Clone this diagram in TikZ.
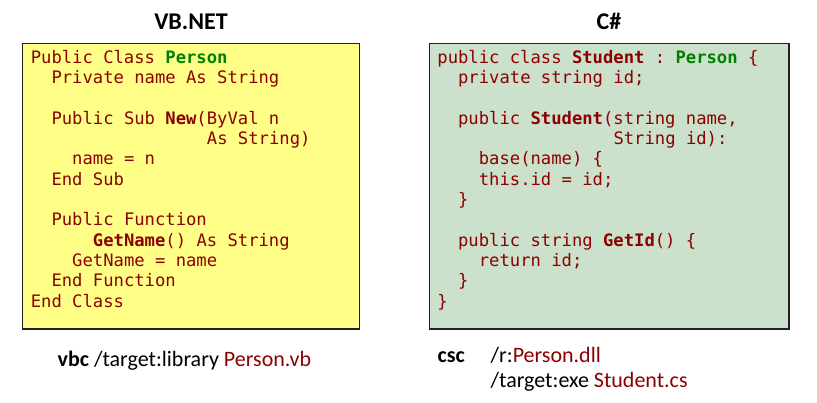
\documentclass[tikz,border=0pt]{standalone}
\usepackage{fontspec}
\setmainfont{Carlito}
\setmonofont{DejaVu Sans Mono}
\definecolor{codered}{RGB}{140,0,0}
\definecolor{codegreen}{RGB}{0,128,0}
\definecolor{vbfill}{RGB}{255,255,136}
\definecolor{csfill}{RGB}{203,225,203}
\definecolor{boxline}{RGB}{34,34,34}
\begin{document}
\begin{tikzpicture}[x=1pt,y=-1pt,
  codebox/.style={draw=boxline,line width=1.5pt,inner sep=0pt,minimum width=#1,minimum height=285.7pt},
  code/.style={anchor=base west,inner sep=0pt,text=codered,font=\fontsize{17.2}{20}\selectfont\ttfamily},
  title/.style={anchor=base,inner sep=0pt,font=\fontsize{24}{28}\selectfont\bfseries},
  cmd/.style={anchor=base west,inner sep=0pt,font=\fontsize{22}{26}\selectfont}]
\useasboundingbox (0,0) rectangle (817,402);
\def\cw{10.36}
\def\lh{20.33}
% titles
\node[title] (t1) at (191,29.3) {VB.NET};
\node[title] (t2) at (609,29.3) {C\#};
% boxes
\node[codebox=337pt,fill=vbfill] (vb) at (191,186.2) {};
\node[codebox=359.7pt,fill=csfill] (cs) at (609.2,186.2) {};
% VB code
\def\lx{30.6}
\def\by{63.3}
\node[code] (v1) at (\lx,\by) {Public Class \textcolor{codegreen}{\bfseries Person}};
\node[code] (v2) at ({\lx+2*\cw},{\by+1*\lh}) {Private name As String};
\node[code] (v4) at ({\lx+2*\cw},{\by+3*\lh}) {Public Sub \textbf{New}(ByVal n};
\node[code] (v5) at ({\lx+17*\cw},{\by+4*\lh}) {As String)};
\node[code] (v6) at ({\lx+4*\cw},{\by+5*\lh}) {name = n};
\node[code] (v7) at ({\lx+2*\cw},{\by+6*\lh}) {End Sub};
\node[code] (v9) at ({\lx+2*\cw},{\by+8*\lh}) {Public Function};
\node[code] (v10) at ({\lx+6*\cw},{\by+9*\lh}) {\textbf{GetName}() As String};
\node[code] (v11) at ({\lx+4*\cw},{\by+10*\lh}) {GetName = name};
\node[code] (v12) at ({\lx+2*\cw},{\by+11*\lh}) {End Function};
\node[code] (v13) at (\lx,{\by+12*\lh}) {End Class};
% C# code
\def\rx{437.2}
\node[code] (c1) at (\rx,\by) {public class \textbf{Student} : \textcolor{codegreen}{\bfseries Person} \{};
\node[code] (c2) at ({\rx+2*\cw},{\by+1*\lh}) {private string id;};
\node[code] (c4) at ({\rx+2*\cw},{\by+3*\lh}) {public \textbf{Student}(string name,};
\node[code] (c5) at ({\rx+17*\cw},{\by+4*\lh}) {String id):};
\node[code] (c6) at ({\rx+4*\cw},{\by+5*\lh}) {base(name) \{};
\node[code] (c7) at ({\rx+4*\cw},{\by+6*\lh}) {this.id = id;};
\node[code] (c8) at ({\rx+2*\cw},{\by+7*\lh}) {\}};
\node[code] (c10) at ({\rx+2*\cw},{\by+9*\lh}) {public string \textbf{GetId}() \{};
\node[code] (c11) at ({\rx+4*\cw},{\by+10*\lh}) {return id;};
\node[code] (c12) at ({\rx+2*\cw},{\by+11*\lh}) {\}};
\node[code] (c13) at (\rx,{\by+12*\lh}) {\}};
% commands
\node[cmd] (vbc) at (57.5,366.7) {\textbf{vbc} /target:library \textcolor{codered}{Person.vb}};
\node[cmd] (csc) at (437.5,362.7) {\textbf{csc}};
\node[cmd] (csc1) at (490.5,362.7) {/r:\textcolor{codered}{Person.dll}};
\node[cmd] (csc2) at (490.5,387.7) {/target:exe \textcolor{codered}{Student.cs}};
\end{tikzpicture}
\end{document}
